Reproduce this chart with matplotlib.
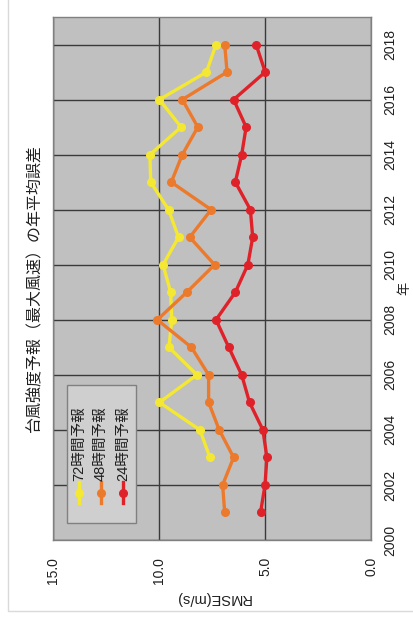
import matplotlib
matplotlib.use("Agg")
import matplotlib.pyplot as plt
from matplotlib.patches import Rectangle
from matplotlib.lines import Line2D

plt.rcParams['font.family'] = ['Liberation Sans', 'Noto Sans CJK JP', 'DejaVu Sans']

years_24_48 = list(range(2001, 2019))
years_72 = list(range(2003, 2019))

rmse_24h = [5.21, 5.00, 4.91, 5.10, 5.73, 6.10, 6.71, 7.31, 6.40, 5.81,
            5.58, 5.69, 6.40, 6.10, 5.89, 6.48, 4.99, 5.42]
rmse_48h = [6.90, 7.00, 6.48, 7.16, 7.66, 7.66, 8.47, 10.08, 8.69, 7.38,
            8.55, 7.54, 9.42, 8.90, 8.17, 8.90, 6.79, 6.90]
rmse_72h = [7.60, 8.07, 9.98, 8.21, 9.53, 9.40, 9.45, 9.81, 9.08, 9.55,
            10.39, 10.43, 8.96, 9.98, 7.76, 7.31]

series = [
    ("72時間予報", years_72, rmse_72h, "#F4E832"),
    ("48時間予報", years_24_48, rmse_48h, "#EC7A2C"),
    ("24時間予報", years_24_48, rmse_24h, "#DF2229"),
]

year_ticks = list(range(2000, 2019, 2))
rmse_ticks = [15.0, 10.0, 5.0, 0.0]

title = "台風強度予報（最大風速）の年平均誤差"

W, H = 413, 623
fig = plt.figure(figsize=(W / 100, H / 100), dpi=100)
fig.patch.set_facecolor("white")

# outer chart frame
fig.add_artist(Rectangle((8 / W, 1 - 611 / H), 1.0, 1.0, transform=fig.transFigure,
                         facecolor="none", edgecolor="#DADADA", lw=1.0))

AX_W, AX_H = 371 - 53, 540 - 17
ax = fig.add_axes([53 / W, 1 - 540 / H, AX_W / W, AX_H / H])
ax.set_facecolor("#C0C0C0")
ax.set_xlim(15, 0)
ax.set_ylim(2000, 2019)

for x in rmse_ticks:
    ax.axvline(x, color="#3A3A3A", lw=1.0, zorder=1)
for y in year_ticks:
    ax.axhline(y, color="#3A3A3A", lw=1.0, zorder=1)

for name, yrs, vals, col in series:
    ax.plot(vals, yrs, color=col, lw=2.4, marker="o", ms=5.5, zorder=3)

for s in ax.spines.values():
    s.set_color("#808080")
    s.set_linewidth(1.0)

ax.yaxis.tick_right()
ax.set_yticks(year_ticks)
ax.set_yticklabels([str(y) for y in year_ticks], rotation=90, va="center",
                   fontsize=10, color="#202020")
ax.set_xticks(rmse_ticks)
ax.set_xticklabels([f"{v:.1f}" for v in rmse_ticks], rotation=90, ha="center",
                   fontsize=10, color="#202020")
ax.tick_params(axis="y", length=0, pad=9)
ax.tick_params(axis="x", length=0, pad=12)


def px(xp, yp):
    """Pixel position in the figure to axes fraction."""
    return (xp - 53) / AX_W, (540 - yp) / AX_H


ax.text(*px(405, 288), "年", transform=ax.transAxes, rotation=90,
        ha="center", va="center", fontsize=9.5, color="#202020")
ax.text(*px(213, 598), "RMSE(m/s)", transform=ax.transAxes, rotation=180,
        ha="center", va="center", fontsize=10.5, color="#202020")
ax.text(*px(35, 288), title, transform=ax.transAxes, rotation=90,
        ha="center", va="center", fontsize=11.5, color="#202020")

# legend box drawn with vertical entries
lx0, ly0 = px(67, 523)
lx1, ly1 = px(136, 385)
ax.add_patch(Rectangle((lx0, ly0), lx1 - lx0, ly1 - ly0, transform=ax.transAxes,
                       facecolor="#CFCFCF", edgecolor="#808080", lw=1.0, zorder=4))
for (name, yrs, vals, col), ex_px in zip(series, [79, 101, 123]):
    ex, y_lo = px(ex_px, 503)
    _, y_hi = px(ex_px, 482)
    _, y_mid = px(ex_px, 493)
    _, y_txt = px(ex_px, 481)
    ax.add_line(Line2D([ex, ex], [y_lo, y_hi], transform=ax.transAxes,
                       color=col, lw=2.4, zorder=5))
    ax.add_line(Line2D([ex], [y_mid], transform=ax.transAxes,
                       color=col, marker="o", ms=5.5, zorder=5))
    ax.text(ex, y_txt, name, transform=ax.transAxes, rotation=90,
            ha="center", va="bottom", fontsize=10.5, color="#202020", zorder=6)

fig.savefig("out.png", dpi=100, facecolor="white")
